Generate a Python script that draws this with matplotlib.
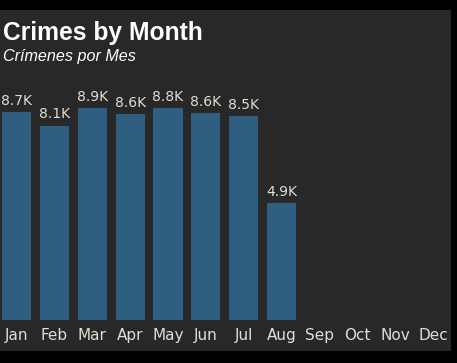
import matplotlib
matplotlib.use("Agg")
import matplotlib.pyplot as plt
from matplotlib.patches import Rectangle

months = ["Jan", "Feb", "Mar", "Apr", "May", "Jun", "Jul", "Aug", "Sep", "Oct", "Nov", "Dec"]
crimes = [8690, 8120, 8870, 8590, 8840, 8640, 8520, 4870]

W, H = 457, 363
fig = plt.figure(figsize=(W / 100, H / 100), dpi=100)
fig.patch.set_facecolor("black")

# dark panel
fig.patches.append(Rectangle((0, (H - 351) / H), 451 / W, (351 - 10) / H,
                             transform=fig.transFigure, facecolor="#282828",
                             edgecolor="none", zorder=-10))

ax_left, ax_right = -2.4, 452
ax_bottom, ax_top = 320, 95
ax = fig.add_axes([ax_left / W, (H - ax_bottom) / H,
                   (ax_right - ax_left) / W, (ax_bottom - ax_top) / H])
ax.set_facecolor("none")
ax.set_zorder(5)

x = list(range(len(crimes)))
bars = ax.bar(x, crimes, width=0.766, color="#2f5e80", zorder=2)
for xi, v in zip(x, crimes):
    ax.annotate(f"{v / 1000:.1f}K", (xi, v), xytext=(0, 3), textcoords="offset points",
                ha="center", va="bottom", fontsize=10, color="#e2ddd2",
                family="DejaVu Sans")

ax.set_xlim(-0.5, 11.5)
ax.set_ylim(0, 9400)
ax.set_xticks(range(len(months)))
ax.set_xticklabels(months, fontsize=11, color="#e2ddd2")
ax.tick_params(axis="x", length=0, pad=6)
ax.set_yticks([])
for s in ax.spines.values():
    s.set_visible(False)

fig.text(3 / W, (H - 40) / H, "Crimes by Month", fontsize=17.7, fontweight="bold",
         color="white", family="Liberation Sans", ha="left", va="baseline", zorder=6)
fig.text(3 / W, (H - 60.5) / H, "Crímenes por Mes", fontsize=11.6, style="italic",
         color="white", family="Liberation Sans", ha="left", va="baseline", zorder=6)

fig.savefig("out.png", dpi=100, facecolor=fig.get_facecolor())
